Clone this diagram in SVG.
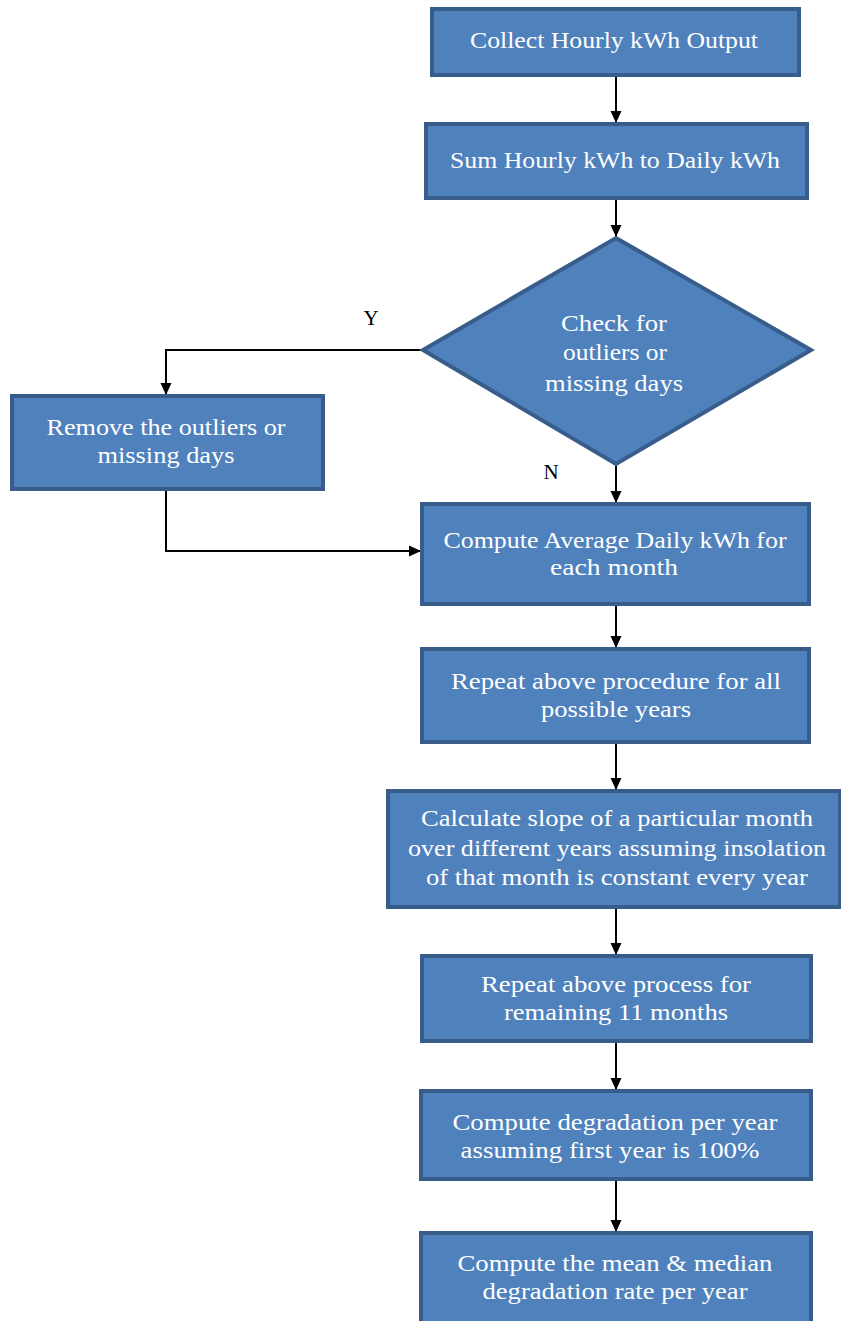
<svg xmlns="http://www.w3.org/2000/svg" width="841" height="1321" viewBox="0 0 841 1321">
<style>
.n{fill:#4f81bd;stroke:#385d8a;stroke-width:4}
.t{font-family:"Liberation Serif","Times New Roman",serif;font-size:23px;fill:#ffffff;text-anchor:middle}
.l{font-family:"Liberation Serif","Times New Roman",serif;font-size:21px;fill:#000000;text-anchor:middle}
.c{fill:none;stroke:#000;stroke-width:2}
</style>
<defs>
<marker id="a" markerWidth="12" markerHeight="12" refX="11" refY="6" orient="auto" markerUnits="userSpaceOnUse" viewBox="0 0 12 12">
<path d="M0,0.5 L12,6 L0,11.5 z" fill="#000"/>
</marker>
</defs>
<rect width="841" height="1321" fill="#ffffff"/>
<g id="connectors">
<line class="c" x1="616" y1="77" x2="616" y2="122" marker-end="url(#a)"/>
<line class="c" x1="616" y1="199" x2="616" y2="236" marker-end="url(#a)"/>
<polyline class="c" points="422,350 166,350 166,394" marker-end="url(#a)"/>
<line class="c" x1="616" y1="465" x2="616" y2="502" marker-end="url(#a)"/>
<polyline class="c" points="166,490 166,551 420,551" marker-end="url(#a)"/>
<line class="c" x1="616" y1="605" x2="616" y2="647" marker-end="url(#a)"/>
<line class="c" x1="616" y1="743" x2="616" y2="789" marker-end="url(#a)"/>
<line class="c" x1="616" y1="908" x2="616" y2="954" marker-end="url(#a)"/>
<line class="c" x1="616" y1="1042" x2="616" y2="1089" marker-end="url(#a)"/>
<line class="c" x1="616" y1="1180" x2="616" y2="1231" marker-end="url(#a)"/>
<text class="l" x="371" y="325">Y</text>
<text class="l" x="551" y="479">N</text>
</g>
<g id="n1"><rect class="n" x="432" y="9" width="367" height="66"/>
<text class="t" x="614" y="48" textLength="288" lengthAdjust="spacingAndGlyphs">Collect Hourly kWh Output</text></g>
<g id="n2"><rect class="n" x="426" y="124" width="381" height="74"/>
<text class="t" x="615" y="168" textLength="330" lengthAdjust="spacingAndGlyphs">Sum Hourly kWh to Daily kWh</text></g>
<g id="n3"><polygon class="n" points="616,238 811,350 616,464 423,350"/>
<text class="t" x="614" y="331" textLength="106" lengthAdjust="spacingAndGlyphs">Check for</text>
<text class="t" x="615" y="360" textLength="104" lengthAdjust="spacingAndGlyphs">outliers or</text>
<text class="t" x="614" y="391" textLength="138" lengthAdjust="spacingAndGlyphs">missing days</text></g>
<g id="n4"><rect class="n" x="12" y="396" width="311" height="93"/>
<text class="t" x="166" y="435" textLength="239" lengthAdjust="spacingAndGlyphs">Remove the outliers or</text>
<text class="t" x="166" y="463" textLength="137" lengthAdjust="spacingAndGlyphs">missing days</text></g>
<g id="n5"><rect class="n" x="422" y="504" width="387" height="100"/>
<text class="t" x="615" y="548" textLength="343" lengthAdjust="spacingAndGlyphs">Compute Average Daily kWh for</text>
<text class="t" x="614" y="575" textLength="128" lengthAdjust="spacingAndGlyphs">each month</text></g>
<g id="n6"><rect class="n" x="422" y="649" width="387" height="93"/>
<text class="t" x="616" y="689" textLength="330" lengthAdjust="spacingAndGlyphs">Repeat above procedure for all</text>
<text class="t" x="616" y="717" textLength="150" lengthAdjust="spacingAndGlyphs">possible years</text></g>
<g id="n7"><rect class="n" x="388" y="791" width="452" height="116"/>
<text class="t" x="617" y="826" textLength="392" lengthAdjust="spacingAndGlyphs">Calculate slope of a particular month</text>
<text class="t" x="617" y="856" textLength="418" lengthAdjust="spacingAndGlyphs">over different years assuming insolation</text>
<text class="t" x="617" y="885" textLength="382" lengthAdjust="spacingAndGlyphs">of that month is constant every year</text></g>
<g id="n8"><rect class="n" x="422" y="956" width="389" height="85"/>
<text class="t" x="616" y="992" textLength="270" lengthAdjust="spacingAndGlyphs">Repeat above process for</text>
<text class="t" x="616" y="1020" textLength="224" lengthAdjust="spacingAndGlyphs">remaining 11 months</text></g>
<g id="n9"><rect class="n" x="421" y="1091" width="390" height="88"/>
<text class="t" x="615" y="1130" textLength="325" lengthAdjust="spacingAndGlyphs">Compute degradation per year</text>
<text class="t" x="610" y="1158" textLength="299" lengthAdjust="spacingAndGlyphs">assuming first year is 100%</text></g>
<g id="n10"><rect class="n" x="421" y="1233" width="390" height="92"/>
<text class="t" x="615" y="1271" textLength="315" lengthAdjust="spacingAndGlyphs">Compute the mean &amp; median</text>
<text class="t" x="615" y="1299" textLength="265" lengthAdjust="spacingAndGlyphs">degradation rate per year</text></g>
</svg>
